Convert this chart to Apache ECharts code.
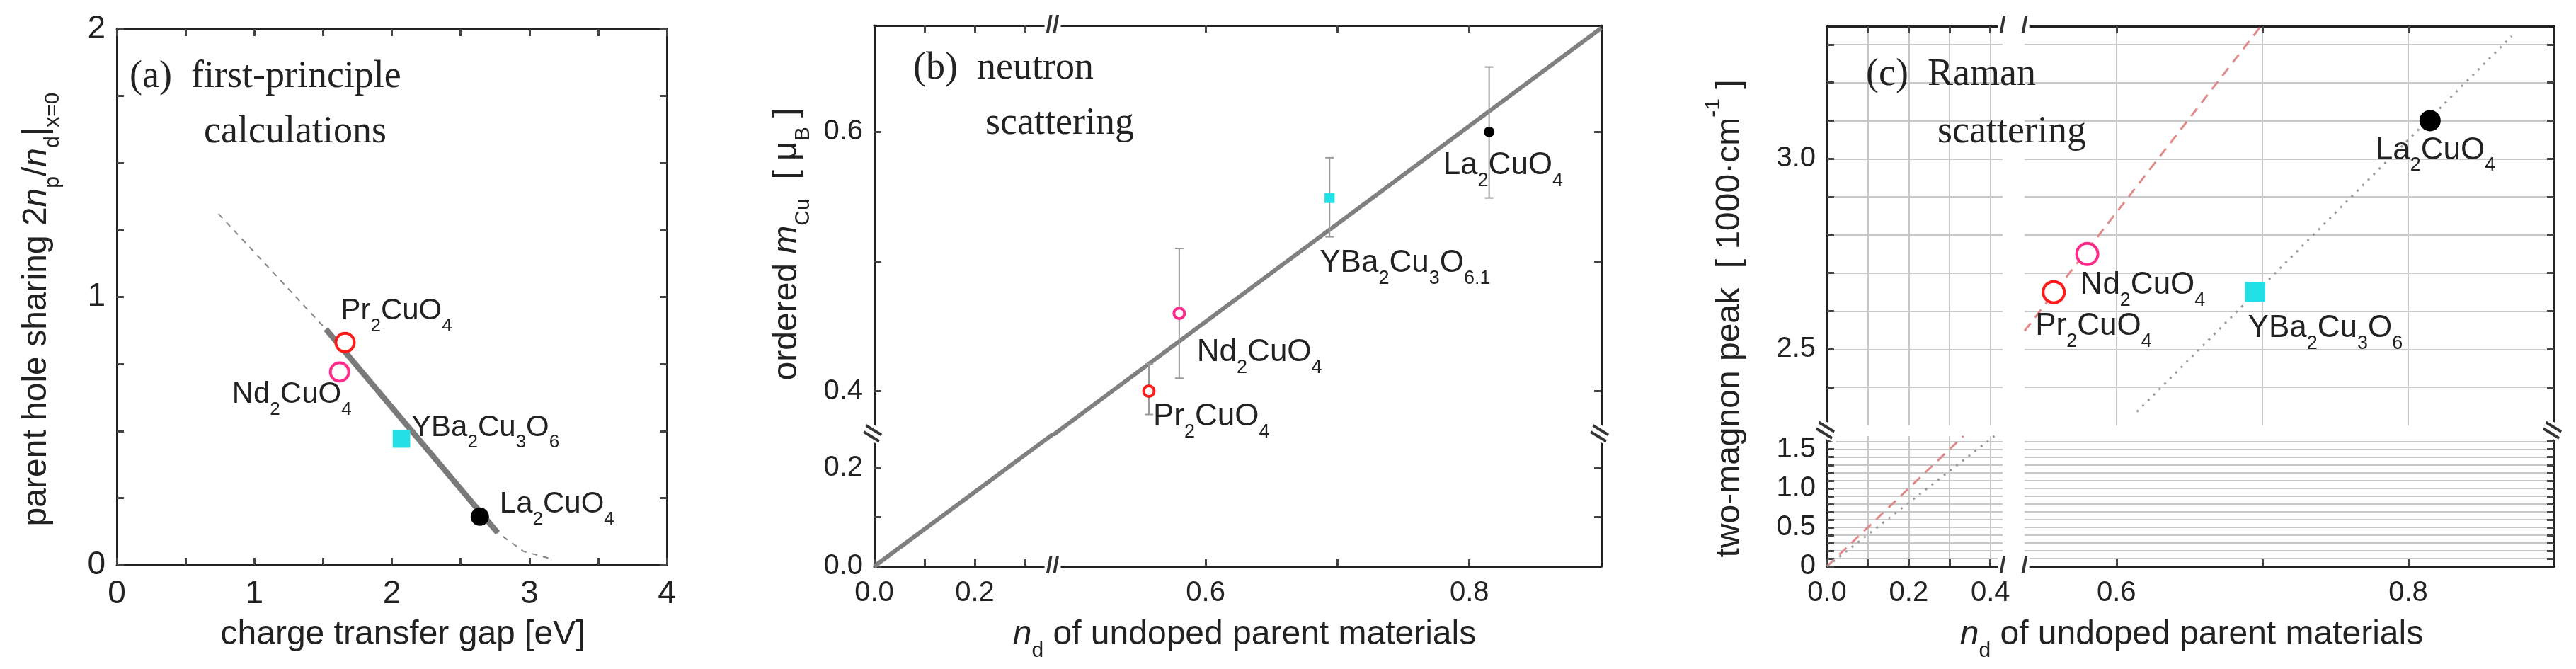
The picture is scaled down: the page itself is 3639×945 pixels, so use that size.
<!DOCTYPE html>
<html>
<head>
<meta charset="utf-8">
<script src="https://cdn.jsdelivr.net/npm/echarts@6/dist/echarts.min.js"></script>
<style>html,body{margin:0;padding:0;background:#fff}#main{width:3639px;height:945px}</style>
</head>
<body>
<div id="main"></div>
<script>
// ---- data ----
var materials = ['Pr2CuO4', 'Nd2CuO4', 'YBa2Cu3O6', 'La2CuO4'];
// (a) first-principle
var gapA = [1.66, 1.62, 2.07, 2.64];
var sharingA = [0.83, 0.72, 0.47, 0.18];
var fitA = [[1.52, 0.88], [2.77, 0.12]];
var guideA = [[0.74, 1.31], [1.14, 1.09], [1.52, 0.88], [2.2, 0.46], [2.77, 0.12], [2.96, 0.05], [3.18, 0.02]];
// (b) neutron
var ndB = [0.557, 0.58, 0.694, 0.815];
var mB = [0.40, 0.46, 0.549, 0.60];
var errLoB = [0.382, 0.41, 0.519, 0.549];
var errHiB = [0.421, 0.51, 0.58, 0.65];
var lineB_low = [[0, 0], [0.355, 0.268]];
var lineB_high = [[0.484, 0.366], [0.9, 0.68]];
// (c) Raman
var ndC = [0.557, 0.58, 0.695, 0.815];
var peakC = [2.65, 2.75, 2.65, 3.10];
var redC_low = [[0, 0], [0.334, 1.67]];
var redC_high = [[0.537, 2.548], [0.699, 3.348]];
var grayC_low = [[0, 0], [0.41, 1.67]];
var grayC_high = [[0.614, 2.336], [0.871, 3.322]];

var chart = echarts.init(document.getElementById('main'));
var FONT = 'Liberation Sans';
var grids = [], xAxes = [], yAxes = [], series = [];

function fmt1(v) { return v.toFixed(1); }

// one rectangular cell of a (possibly broken) panel
function addCell(c) {
  var g = grids.length;
  grids.push({left: c.left, top: c.top, width: c.width, height: c.height, outerBoundsMode: 'none', containLabel: false});
  var lineStyle = {color: '#222', width: 3};
  var fs = c.fs || 40;
  var xi = xAxes.length, yi = yAxes.length;
  xAxes.push({
    type: 'value', gridIndex: g, min: c.xmin, max: c.xmax, position: 'bottom',
    axisLine: {show: !!c.b, onZero: false, lineStyle: lineStyle},
    axisTick: {show: !!c.b, inside: true, length: 10, lineStyle: {color: '#444', width: 3}, customValues: c.xTicks},
    axisLabel: {show: !!c.b, customValues: c.xLabels, formatter: c.xFmt || fmt1, fontSize: fs, color: '#222', fontFamily: FONT, margin: 18},
    splitLine: {show: !!c.gridX, lineStyle: {color: '#c8c8c8', width: 2}}
  });
  yAxes.push({
    type: 'value', gridIndex: g, min: c.ymin, max: c.ymax, position: 'left',
    axisLine: {show: !!c.l, onZero: false, lineStyle: lineStyle},
    axisTick: {show: !!c.l, inside: true, length: 10, lineStyle: {color: '#444', width: 3}, customValues: c.yTicks},
    axisLabel: {show: !!c.l, customValues: c.yLabels, formatter: c.yFmt || fmt1, fontSize: fs, color: '#222', fontFamily: FONT, margin: 16},
    splitLine: {show: !!c.gridY, lineStyle: {color: '#c8c8c8', width: 2}}
  });
  // mirrored frame sides
  xAxes.push({
    type: 'value', gridIndex: g, min: c.xmin, max: c.xmax, position: 'top',
    axisLine: {show: !!c.t, onZero: false, lineStyle: lineStyle},
    axisTick: {show: !!c.t, inside: true, length: 10, lineStyle: {color: '#444', width: 3}, customValues: c.xTicks},
    axisLabel: {show: false}, splitLine: {show: false}
  });
  yAxes.push({
    type: 'value', gridIndex: g, min: c.ymin, max: c.ymax, position: 'right',
    axisLine: {show: !!c.r, onZero: false, lineStyle: lineStyle},
    axisTick: {show: !!c.r, inside: true, length: 10, lineStyle: {color: '#444', width: 3}, customValues: c.yTicks},
    axisLabel: {show: false}, splitLine: {show: false}
  });
  return {x: xi, y: yi};
}

function subRich(fs) {
  return {
    n: {fontSize: fs, fontFamily: FONT, fill: '#222', color: '#222'},
    i: {fontSize: fs, fontFamily: FONT, fontStyle: 'italic', fill: '#222', color: '#222'},
    s: {fontSize: Math.round(fs * 0.62), fontFamily: FONT, fill: '#222', color: '#222', verticalAlign: 'bottom', padding: [0, 0, -Math.round(fs * 0.3), 0]},
    p: {fontSize: Math.round(fs * 0.62), fontFamily: FONT, fill: '#222', color: '#222', verticalAlign: 'top', padding: [-Math.round(fs * 0.3), 0, 0, 0]}
  };
}

var chemText = {
  'Pr2CuO4': '{n|Pr}{s|2}{n|CuO}{s|4}',
  'Nd2CuO4': '{n|Nd}{s|2}{n|CuO}{s|4}',
  'YBa2Cu3O6': '{n|YBa}{s|2}{n|Cu}{s|3}{n|O}{s|6}',
  'YBa2Cu3O6.1': '{n|YBa}{s|2}{n|Cu}{s|3}{n|O}{s|6.1}',
  'La2CuO4': '{n|La}{s|2}{n|CuO}{s|4}'
};
var markerStyle = [
  {symbol: 'circle', color: '#fff', border: '#ff1a1a'},
  {symbol: 'circle', color: '#fff', border: '#ff2a8a'},
  {symbol: 'rect', color: '#22e0e6', border: '#22e0e6'},
  {symbol: 'circle', color: '#000', border: '#000'}
];

function pointSeries(ax, xs, ys, size, names, offsets, fs) {
  xs.forEach(function (x, k) {
    var m = markerStyle[k];
    series.push({
      type: 'scatter', xAxisIndex: ax.x, yAxisIndex: ax.y, z: 5,
      symbol: m.symbol, symbolSize: m.symbol === 'rect' ? size * 0.95 : size,
      itemStyle: {color: m.color, borderColor: m.border, borderWidth: m.color === '#fff' ? 4 : 0, opacity: 1},
      data: [[x, ys[k]]],
      label: {
        show: true, position: 'inside', align: 'left', verticalAlign: 'middle',
        offset: [offsets[k][0], offsets[k][1]],
        formatter: chemText[names[k]], rich: subRich(fs)
      }
    });
  });
}

function lineSeries(ax, data, color, width, type) {
  series.push({
    type: 'line', xAxisIndex: ax.x, yAxisIndex: ax.y, data: data, symbol: 'none', silent: true,
    lineStyle: {color: color, width: width, type: type || 'solid'}, z: 3
  });
}

// ---------- (a) ----------
var aAx = addCell({left: 165, top: 41, width: 777, height: 757, xmin: 0, xmax: 4, ymin: 0, ymax: 2, fs: 46,
  xTicks: [0, 0.5, 1, 1.5, 2, 2.5, 3, 3.5, 4], xLabels: [0, 1, 2, 3, 4], xFmt: function (v) { return '' + v; },
  yTicks: [0, 0.25, 0.5, 0.75, 1, 1.25, 1.5, 1.75, 2], yLabels: [0, 1, 2], yFmt: function (v) { return '' + v; },
  b: 1, l: 1, t: 1, r: 1});
lineSeries(aAx, guideA, '#888', 2, [8, 8]);
lineSeries(aAx, fitA, '#7a7a7a', 8);
pointSeries(aAx, gapA, sharingA, 26, materials,
  [[-6, -44], [-152, 32], [14, -16], [28, -17]], 42);

// ---------- (b) broken axes ----------
var bL = 1235, bBreakX = 1487, bR = 2262, bT = 36, bBreakY = 613, bB = 800;
var bTL = addCell({left: bL, top: bT, width: bBreakX - bL, height: bBreakY - bT, xmin: 0, xmax: 0.355, ymin: 0.367, ymax: 0.682,
  xTicks: [0.1, 0.2, 0.3], yTicks: [0.4, 0.5, 0.6], yLabels: [0.4, 0.6], l: 1, t: 1});
var bTR = addCell({left: bBreakX, top: bT, width: bR - bBreakX, height: bBreakY - bT, xmin: 0.484, xmax: 0.9, ymin: 0.367, ymax: 0.682,
  xTicks: [0.6, 0.7, 0.8], yTicks: [0.4, 0.5, 0.6], t: 1, r: 1});
var bBL = addCell({left: bL, top: bBreakY, width: bBreakX - bL, height: bB - bBreakY, xmin: 0, xmax: 0.355, ymin: 0, ymax: 0.269,
  xTicks: [0, 0.1, 0.2, 0.3], xLabels: [0, 0.2], yTicks: [0, 0.1, 0.2], yLabels: [0, 0.2], b: 1, l: 1});
var bBR = addCell({left: bBreakX, top: bBreakY, width: bR - bBreakX, height: bB - bBreakY, xmin: 0.484, xmax: 0.9, ymin: 0, ymax: 0.269,
  xTicks: [0.6, 0.7, 0.8], xLabels: [0.6, 0.8], yTicks: [0.1, 0.2], b: 1, r: 1});
lineSeries(bBL, lineB_low, '#808080', 6);
lineSeries(bTR, lineB_high, '#808080', 6);
series.push({
  type: 'custom', xAxisIndex: bTR.x, yAxisIndex: bTR.y, z: 4,
  data: ndB.map(function (x, k) { return [x, errLoB[k], errHiB[k]]; }),
  renderItem: function (params, api) {
    var lo = api.coord([api.value(0), api.value(1)]);
    var hi = api.coord([api.value(0), api.value(2)]);
    var st = {stroke: '#999', lineWidth: 2};
    return {type: 'group', children: [
      {type: 'line', shape: {x1: lo[0], y1: lo[1], x2: hi[0], y2: hi[1]}, style: st},
      {type: 'line', shape: {x1: lo[0] - 6, y1: lo[1], x2: lo[0] + 6, y2: lo[1]}, style: st},
      {type: 'line', shape: {x1: hi[0] - 6, y1: hi[1], x2: hi[0] + 6, y2: hi[1]}, style: st}
    ]};
  }
});
pointSeries(bTR, ndB, mB, 15, ['Pr2CuO4', 'Nd2CuO4', 'YBa2Cu3O6.1', 'La2CuO4'],
  [[6, 36], [25, 55], [-14, 92], [-65, 48]], 44);

// ---------- (c) broken axes, with grid ----------
var cL = 2581, cX1 = 2829, cX2 = 2860, cR = 3608, cT = 37, cY1 = 601, cY2 = 616, cB = 800;
var cTL = addCell({left: cL, top: cT, width: cX1 - cL, height: cY1 - cT, xmin: 0, xmax: 0.43, ymin: 2.3, ymax: 3.348,
  xTicks: [0.1, 0.2, 0.3, 0.4], yTicks: [2.4, 2.5, 2.6, 2.7, 2.8, 2.9, 3.0, 3.1, 3.2, 3.3], yLabels: [2.5, 3.0],
  l: 1, t: 1, gridX: 1, gridY: 1});
var cTR = addCell({left: cX2, top: cT, width: cR - cX2, height: cY1 - cT, xmin: 0.537, xmax: 0.9, ymin: 2.3, ymax: 3.348,
  xTicks: [0.6, 0.7, 0.8], yTicks: [2.4, 2.5, 2.6, 2.7, 2.8, 2.9, 3.0, 3.1, 3.2, 3.3],
  t: 1, r: 1, gridX: 1, gridY: 1});
var cBL = addCell({left: cL, top: cY2, width: cX1 - cL, height: cB - cY2, xmin: 0, xmax: 0.43, ymin: 0, ymax: 1.67,
  xTicks: [0, 0.1, 0.2, 0.3, 0.4], xLabels: [0, 0.2, 0.4], yTicks: [0, 0.1, 0.2, 0.3, 0.4, 0.5, 0.6, 0.7, 0.8, 0.9, 1.0, 1.1, 1.2, 1.3, 1.4, 1.5, 1.6],
  yLabels: [0, 0.5, 1.0, 1.5], yFmt: function (v) { return v === 0 ? '0' : v.toFixed(1); },
  b: 1, l: 1, gridX: 1, gridY: 1});
var cBR = addCell({left: cX2, top: cY2, width: cR - cX2, height: cB - cY2, xmin: 0.537, xmax: 0.9, ymin: 0, ymax: 1.67,
  xTicks: [0.6, 0.7, 0.8], xLabels: [0.6, 0.8], yTicks: [0.1, 0.2, 0.3, 0.4, 0.5, 0.6, 0.7, 0.8, 0.9, 1.0, 1.1, 1.2, 1.3, 1.4, 1.5, 1.6],
  b: 1, r: 1, gridY: 1});
lineSeries(cBL, redC_low, '#e08a8a', 3, [14, 10]);
lineSeries(cTR, redC_high, '#e08a8a', 3, [14, 10]);
lineSeries(cBL, grayC_low, '#999', 3, [3, 8]);
lineSeries(cTR, grayC_high, '#999', 3, [3, 8]);
pointSeries(cTR, ndC, peakC, 30, materials,
  [[-26, 48], [-10, 44], [-10, 51], [-77, 42]], 44);

// ---------- axis names, captions, break marks ----------
var serif = 'Liberation Serif';
function caption(x, y, t) {
  return {type: 'text', x: x, y: y, z: 10, style: {text: t, font: '54px "' + serif + '"', fill: '#222', verticalAlign: 'middle'}};
}
function axisName(x, y, t, rot) {
  return {type: 'text', x: x, y: y, z: 10, rotation: rot ? Math.PI / 2 : 0,
    style: {text: t, rich: subRich(48), align: 'center', verticalAlign: 'middle', fill: '#222'}};
}
function brk(x, y, rot, t) {
  return {type: 'text', x: x, y: y, z: 10, rotation: rot || 0,
    style: {text: t || '//', font: 'bold 34px "' + FONT + '"', fill: '#333', align: 'center', verticalAlign: 'middle',
      backgroundColor: '#fff', padding: [0, 2]}};
}
var ndName = '{i|n}{s|d}{n| of undoped parent materials}';
chart.setOption({
  animation: false,
  grid: grids, xAxis: xAxes, yAxis: yAxes, series: series,
  graphic: [
    caption(183, 109, '(a)  first-principle'), caption(288, 187, 'calculations'),
    caption(1290, 97, '(b)  neutron'), caption(1392, 175, 'scattering'),
    caption(2636, 106, '(c)  Raman'), caption(2737, 187, 'scattering'),
    axisName(569, 897, '{n|charge transfer gap [eV]}'),
    axisName(1758, 897, ndName),
    axisName(3096, 897, ndName),
    axisName(52, 437, '{n|parent hole sharing 2}{i|n}{s|p}{n|/}{i|n}{s|d}{n||}{s|x=0}', 1),
    axisName(1112, 345, '{n|ordered }{i|m}{s|Cu}{n|  [ μ}{s|B}{n| ]}', 1),
    axisName(2444, 450, '{n|two-magnon peak  [ 1000·cm}{p|-1}{n| ]}', 1),
    brk(bBreakX, bT), brk(bBreakX, bB), brk(bL, bBreakY, Math.PI / 2.6), brk(bR, bBreakY, Math.PI / 2.6),
    brk(cL, (cY1 + cY2) / 2, Math.PI / 2.6), brk(cR, (cY1 + cY2) / 2, Math.PI / 2.6),
    brk(cX1, cT, 0, '/'), brk(cX2, cT, 0, '/'), brk(cX1, cB, 0, '/'), brk(cX2, cB, 0, '/')
  ]
});
</script>
</body>
</html>
